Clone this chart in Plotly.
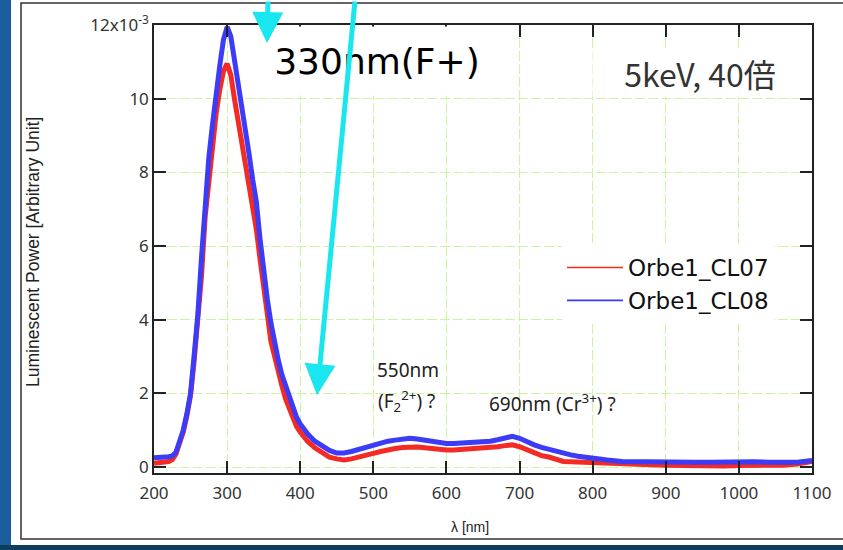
import plotly.graph_objects as go

# Cathodoluminescence spectra (intensity in units of 1e-3, arbitrary)
wavelength_nm = [200, 210, 220, 225, 230, 235, 240, 245, 250, 255, 260, 265, 270, 275,
                 280, 285, 290, 295, 300, 305, 310, 315, 320, 325, 330, 335, 340, 345,
                 350, 355, 360, 365, 370, 375, 380, 385, 390, 395, 400, 410, 420, 430,
                 440, 450, 460, 470, 480, 490, 500, 510, 520, 530, 540, 550, 560, 570,
                 580, 590, 600, 610, 620, 630, 640, 650, 660, 670, 680, 690, 700, 710,
                 720, 730, 740, 750, 760, 770, 780, 790, 800, 820, 840, 860, 880, 900,
                 920, 940, 960, 980, 1000, 1020, 1040, 1060, 1080, 1100]

cl07 = [0.10, 0.12, 0.15, 0.20, 0.35, 0.65, 0.95, 1.40, 1.95, 2.90, 3.95, 5.20, 6.80, 7.75,
        8.90, 9.60, 10.25, 10.75, 10.95, 10.65, 10.00, 9.40, 8.75, 8.20, 7.65, 7.10, 6.45, 5.65,
        4.95, 4.20, 3.40, 3.00, 2.55, 2.20, 1.85, 1.58, 1.33, 1.10, 0.95, 0.70, 0.52, 0.38,
        0.27, 0.22, 0.19, 0.22, 0.26, 0.32, 0.37, 0.42, 0.47, 0.50, 0.53, 0.55, 0.54, 0.52,
        0.49, 0.47, 0.46, 0.46, 0.47, 0.48, 0.49, 0.50, 0.52, 0.55, 0.58, 0.60, 0.55, 0.46,
        0.38, 0.31, 0.27, 0.20, 0.15, 0.14, 0.13, 0.13, 0.13, 0.11, 0.09, 0.07, 0.06, 0.05,
        0.04, 0.03, 0.02, 0.03, 0.04, 0.04, 0.04, 0.05, 0.08, 0.15]

cl08 = [0.25, 0.25, 0.28, 0.30, 0.40, 0.70, 1.00, 1.45, 2.00, 3.05, 4.15, 5.70, 7.30, 8.40,
        9.30, 10.20, 10.90, 11.60, 11.95, 11.70, 11.10, 10.40, 9.75, 9.15, 8.50, 7.80, 7.20, 6.20,
        5.30, 4.55, 3.90, 3.35, 2.90, 2.50, 2.20, 1.88, 1.60, 1.35, 1.17, 0.90, 0.70, 0.57,
        0.45, 0.38, 0.38, 0.42, 0.48, 0.55, 0.60, 0.66, 0.70, 0.73, 0.76, 0.78, 0.76, 0.73,
        0.68, 0.65, 0.64, 0.64, 0.65, 0.66, 0.67, 0.68, 0.70, 0.74, 0.80, 0.83, 0.78, 0.68,
        0.60, 0.53, 0.48, 0.40, 0.37, 0.33, 0.29, 0.26, 0.23, 0.19, 0.15, 0.14, 0.14, 0.14,
        0.13, 0.13, 0.13, 0.14, 0.15, 0.14, 0.13, 0.12, 0.13, 0.18]

series_names = ["Orbe1_CL07", "Orbe1_CL08"]
series_colors = ["#f42a24", "#3b3bf8"]

y_tickvals = [0, 2, 4, 6, 8, 10, 12]
y_ticktext = ["0", "2", "4", "6", "8", "10", "12x10<sup>-3</sup>"]
x_tickvals = [200, 300, 400, 500, 600, 700, 800, 900, 1000, 1100]

W, H = 843, 550
ML, MR, MT, MB = 154, 31, 25, 77
PW, PH = W - ML - MR, H - MT - MB


def px_x(p):
    return (p - ML) / PW


def px_y(p):
    return (H - MB - p) / PH


fig = go.Figure()
for vals, name, color in zip([cl07, cl08], series_names, series_colors):
    fig.add_trace(go.Scatter(x=wavelength_nm, y=vals, mode="lines", name=name,
                             legendgroup=name, showlegend=False,
                             line=dict(color=color, width=5)))
# thin-line legend entries
for name, color in zip(series_names, series_colors):
    fig.add_trace(go.Scatter(x=[None], y=[None], mode="lines", name=name,
                             legendgroup=name, showlegend=True,
                             line=dict(color=color, width=1.6)))

grid_color = "#cdf5a0"
axis_common = dict(showline=True, linecolor="#222", linewidth=1.5, mirror="allticks",
                   ticks="inside", ticklen=12, tickwidth=1.5, tickcolor="#222",
                   showgrid=True, gridcolor=grid_color, gridwidth=1, griddash="10px,3px",
                   zeroline=False,
                   tickfont=dict(family="Noto Sans", size=17, color="#333"))

fig.update_xaxes(range=[200, 1100], tickvals=x_tickvals, ticklabelstandoff=4, **axis_common)
fig.update_yaxes(range=[-0.163, 12], tickvals=y_tickvals, ticktext=y_ticktext, **axis_common)

shapes = [
    # page background strips
    dict(type="rect", xref="paper", yref="paper", x0=px_x(-5), x1=px_x(11), y0=px_y(-5), y1=px_y(560),
         fillcolor="#1a5d9c", line_width=0, layer="below"),
    dict(type="rect", xref="paper", yref="paper", x0=px_x(-5), x1=px_x(860), y0=px_y(545), y1=px_y(560),
         fillcolor="#0c3d5c", line_width=0, layer="below"),
    # frame around the chart panel
    dict(type="rect", xref="paper", yref="paper", x0=px_x(21), x1=px_x(860), y0=px_y(539), y1=px_y(3),
         line=dict(color="#333", width=1.5), fillcolor="rgba(0,0,0,0)", layer="below"),
]

centre = dict(xanchor="center", yanchor="middle", showarrow=False)
annotations = [
    dict(text="Luminescent Power [Arbitrary Unit]", xref="paper", yref="paper",
         x=px_x(33), y=px_y(252), textangle=-90, **centre,
         font=dict(family="Liberation Sans", size=17.5, color="#222")),
    dict(text="λ [nm]", xref="paper", yref="paper", x=px_x(470), y=px_y(527), **centre,
         font=dict(family="Liberation Sans", size=14, color="#222")),
    dict(text="330nm(F+)", xref="paper", yref="paper", x=px_x(377), y=px_y(61), **centre,
         bgcolor="white", width=262, height=66,
         font=dict(family="DejaVu Sans", size=36, color="black")),
    dict(text="5keV, 40倍", xref="paper", yref="paper", x=px_x(700), y=px_y(73), **centre,
         bgcolor="white", width=212, height=44,
         font=dict(family="Noto Sans CJK JP", size=32, color="#333")),
    dict(text="550nm", xref="paper", yref="paper", x=px_x(375), y=px_y(370),
         xanchor="left", yanchor="middle", showarrow=False,
         font=dict(family="Noto Sans", size=19, color="#222")),
    dict(text="(F<sub>2</sub><sup>2+</sup>) ?", xref="paper", yref="paper", x=px_x(376), y=px_y(401),
         xanchor="left", yanchor="middle", showarrow=False,
         font=dict(family="Noto Sans", size=19, color="#222")),
    dict(text="690nm (Cr<sup>3+</sup>) ?", xref="paper", yref="paper", x=px_x(487), y=px_y(403),
         xanchor="left", yanchor="middle", showarrow=False,
         font=dict(family="Noto Sans", size=19, color="#222")),
    # cyan pointer arrows
    dict(text="", x=354.6, y=11.51, ax=1, ay=-48, showarrow=True, arrowhead=2,
         arrowsize=1.24, arrowwidth=5, arrowcolor="#19e6ee"),
    dict(text="", x=423, y=1.95, ax=38, ay=-400, showarrow=True, arrowhead=2,
         arrowsize=1.24, arrowwidth=5, arrowcolor="#19e6ee"),
]

fig.update_layout(
    width=W, height=H, autosize=False,
    margin=dict(l=ML, r=MR, t=MT, b=MB, pad=0),
    paper_bgcolor="white", plot_bgcolor="white",
    shapes=shapes, annotations=annotations,
    showlegend=True,
    legend=dict(x=px_x(562), y=px_y(246), xanchor="left", yanchor="top",
                bgcolor="white", borderwidth=0, itemwidth=56,
                font=dict(family="DejaVu Sans", size=23, color="#111"),
                tracegroupgap=0),
)

fig.write_html("out.html")
